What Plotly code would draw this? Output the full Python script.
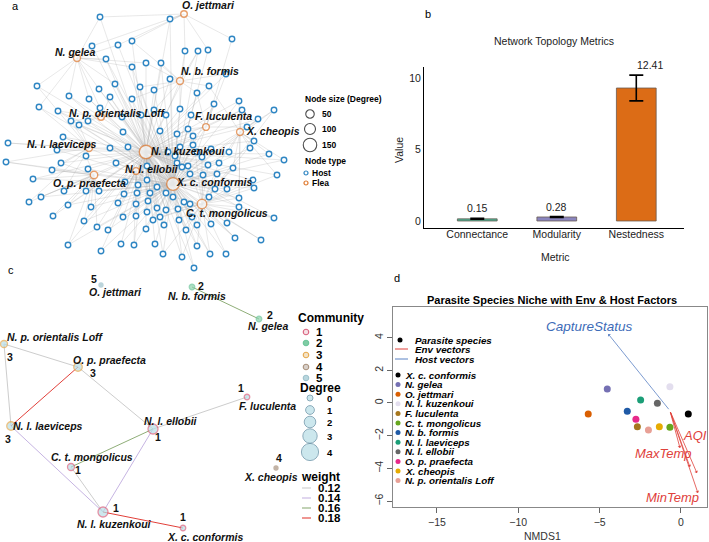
import plotly.graph_objects as go

W, H = 709, 542
FONT = "Liberation Sans, Arial, Helvetica, sans-serif"

# ---------------- Panel a : host-flea network (layout coordinates) ----------------
flea_codes = list("ABCDEFGHIJKL")
flea_names = ["O. jettmari", "N. gelea", "N. b. formis", "N. p. orientalis Loff", "F. luculenta",
              "X. cheopis", "N. l. laeviceps", "N. l. kuzenkoui", "N. l. ellobii", "O. p. praefecta",
              "X. c. conformis", "C. t. mongolicus"]
flea_x = [184, 77, 180, 101, 206, 240, 89, 146, 136, 94, 173, 202]
flea_y = [14, 58, 81, 117, 127, 132, 148, 152, 171, 175, 184, 204]
flea_degree = [12, 20, 20, 12, 15, 18, 20, 150, 15, 30, 135, 70]
flea_label_x = [208, 75, 210, 117, 223, 273, 62, 188, 152, 89, 214, 227]
flea_label_y = [5, 52, 71, 113, 116, 131, 144, 151, 169, 183, 182, 213]

host_x = [100, 170, 232, 92, 118, 132, 185, 198, 208, 106,
          146, 161, 132, 170, 226, 37, 115, 99, 140, 154,
          209, 69, 110, 89, 132, 197, 39, 58, 214, 239,
          242, 274, 154, 180, 191, 122, 71, 79, 88, 258,
          160, 177, 188, 193, 123, 63, 8, 6, 57, 110,
          128, 86, 168, 180, 197, 211, 229, 250, 254, 269,
          284, 247, 61, 52, 33, 88, 116, 147, 177, 188,
          208, 219, 233, 277, 254, 203, 217, 190, 182, 147,
          157, 138, 125, 86, 99, 64, 41, 29, 68, 91,
          124, 137, 150, 166, 173, 184, 190, 209, 215, 227,
          239, 53, 118, 136, 148, 157, 166, 123, 136, 147,
          160, 84, 97, 108, 146, 153, 164, 179, 186, 197,
          211, 227, 239, 274, 235, 261, 68, 101, 121, 134,
          155, 163, 182, 197, 210, 226, 194,
          193, 202, 175, 253, 178, 192, 100, 141, 166]
host_y = [17, 19, 39, 46, 45, 41, 51, 51, 50, 59,
          63, 63, 67, 79, 74, 86, 84, 89, 87, 90,
          86, 96, 97, 99, 99, 93, 107, 111, 104, 101,
          110, 110, 110, 109, 115, 117, 121, 125, 121, 119,
          131, 134, 129, 136, 132, 137, 143, 162, 150, 148,
          147, 156, 152, 147, 152, 149, 152, 148, 141, 154,
          160, 127, 163, 170, 179, 169, 163, 166, 163, 166,
          165, 163, 168, 175, 188, 175, 174, 174, 167, 180,
          187, 185, 182, 191, 191, 191, 197, 202, 205, 207,
          194, 193, 193, 193, 197, 202, 204, 197, 189, 189,
          198, 216, 203, 204, 201, 208, 210, 217, 216, 212,
          217, 221, 227, 230, 229, 220, 225, 220, 230, 225,
          224, 223, 207, 218, 238, 240, 245, 251, 244, 245,
          244, 254, 257, 246, 254, 254, 268,
          145, 157, 156, 180, 209, 217, 108, 115, 115]
host_links = ["ABH", "AHK", "AE", "BAH", "ABK", "ACH", "ACK", "CHK", "AK", "BHK",
              "CBH", "CHK", "BKH", "CHK", "CEH", "BGH", "BHK", "BKH", "CHK", "HK",
              "CFH", "BDK", "DHK", "BKH", "CHK", "CEK", "BGK", "DHK", "EHK", "FKH",
              "FEH", "FLK", "HCK", "CKH", "EHK", "DHK", "DGH", "GHK", "DKH", "FHK",
              "HK", "HEK", "EKH", "HLK", "HDK", "GHK", "GH", "GJK", "GKH", "HGK",
              "HIK", "GJH", "HK", "HEK", "KEH", "FKH", "FHK", "FK", "FLH", "FHK",
              "FKH", "FEH", "GJH", "GJK", "JHK", "JHK", "IHK", "HK", "KH", "KLH",
              "KLH", "LFH", "FLK", "FLH", "LKH", "KLH", "LHK", "KH", "KEH", "HIK",
              "KH", "IKH", "IHK", "JHK", "JK", "JGH", "JHK", "JG", "JKH", "JHK",
              "IKH", "IHK", "KH", "KIH", "KLH", "LKH", "LHK", "LK", "LHK", "LKH",
              "LFK", "JH", "IKH", "IHK", "KH", "KIH", "KLH", "KH", "IKH", "KH",
              "KLH", "JKH", "JHK", "KH", "KH", "KLH", "KH", "LKH", "LHK", "LK",
              "LHK", "LK", "LFH", "LKH", "LHK", "LK", "JHK", "KH", "KH", "KIH",
              "KH", "KLH", "LHK", "LKH", "LHK", "LK", "KH",
              "HK", "KLH", "HK", "LKH", "KLH", "LHK", "DBH", "HDK", "HCK"]
size_legend_degrees = [50, 100, 150]

# ---------------- Panel b : topology metrics ----------------
metrics = ["Connectance", "Modularity", "Nestedness"]
metric_values = [0.15, 0.28, 9.3]
metric_err = [0.03, 0.03, 0.9]
metric_labels = ["0.15", "0.28", "12.41"]
bar_colors = ["rgba(27,158,119,0.8)", "rgba(117,112,179,0.85)", "rgba(217,95,2,0.92)"]

# ---------------- Panel c : flea community network ----------------
c_names = ["O. jettmari", "N. b. formis", "N. gelea", "N. p. orientalis Loff", "O. p. praefecta",
           "N. l. laeviceps", "N. l. ellobii", "F. luculenta", "C. t. mongolicus", "N. l. kuzenkoui",
           "X. c. conformis", "X. cheopis"]
c_x = [101, 192, 259, 4, 78, 11, 153, 247, 71, 103, 183, 276]
c_y = [285, 287, 319, 344, 367, 426, 429, 397, 467, 512, 528, 468]
c_comm = [5, 2, 2, 3, 3, 3, 1, 1, 1, 1, 1, 4]
c_degree = [0, 1, 1, 2, 3, 3, 4, 1, 2, 4, 1, 0]
c_name_x = [115, 197, 268, 55, 109, 48, 171, 267, 92, 114, 205, 271]
c_name_y = [292, 296, 326, 337, 360, 426, 421, 406, 457, 524, 537, 477]
c_num_x = [94, 201, 270, 10, 93, 8, 158, 241, 78, 116, 183, 279]
c_num_y = [279, 286, 315, 357, 373, 439, 437, 388, 470, 508, 517, 458]
edge_from = [3, 3, 4, 4, 6, 6, 6, 5, 8, 9, 1]
edge_to = [4, 5, 5, 6, 7, 8, 9, 9, 9, 10, 2]
edge_weight = [0.12, 0.12, 0.18, 0.12, 0.12, 0.16, 0.14, 0.14, 0.12, 0.18, 0.16]
weight_levels = [0.12, 0.14, 0.16, 0.18]
weight_colors = {0.12: "#cdcdcd", 0.14: "#c6b4e2", 0.16: "#8fae78", 0.18: "#e2403a"}
communities = [1, 2, 3, 4, 5]
comm_colors = {1: "#d9627f", 2: "#6cc59a", 3: "#e5a94f", 4: "#a9927e", 5: "#9fc2cc"}
degree_levels = [0, 1, 2, 3, 4]

# ---------------- Panel d : NMDS ----------------
d_species = ["X. c. conformis", "N. gelea", "O. jettmari", "N. l. kuzenkoui", "F. luculenta",
             "C. t. mongolicus", "N. b. formis", "N. l. laeviceps", "N. l. ellobii",
             "O. p. praefecta", "X. cheopis", "N. p. orientalis Loff"]
d_colors = ["#000000", "#7570B3", "#D95F02", "#E3DEEE", "#A6761D", "#66A61E", "#1F5AA6",
            "#1B9E77", "#666666", "#E7298A", "#E6AB02", "#E8A096"]
d_x = [0.45, -4.53, -5.7, -0.68, -2.68, -0.68, -3.3, -2.48, -1.45, -2.77, -1.33, -2.0]
d_y = [-0.67, 0.86, -0.67, 1.0, -1.45, -1.49, -0.51, 0.18, -0.02, -1.0, -1.45, -1.65]
vec_origin = (-0.68, -0.47)
host_vec_x = [-4.47]
host_vec_y = [4.22]
host_vec_names = ["CaptureStatus"]
host_label_x = [-5.6]
host_label_y = [4.65]
env_vec_x = [-0.06, 0.55, 0.98, 1.04]
env_vec_y = [-2.75, -3.91, -4.28, -5.5]
env_names = ["AQI", "MaxTemp", "MinTemp"]
env_label_x = [0.86, -1.1, -0.55]
env_label_y = [-1.96, -3.06, -5.8]

# ================= build figure =================
fig = go.Figure()
PX = dict(xaxis="x3", yaxis="y3")


def dom_x(a, b):
    return [a / W, b / W]


def dom_y(top, bottom):
    return [1 - bottom / H, 1 - top / H]


def txt(x, y, s, size, bold=False, italic=False, color="black", anchor="center", angle=0):
    if italic:
        s = f"<i>{s}</i>"
    if bold:
        s = f"<b>{s}</b>"
    fig.add_annotation(x=x, y=y, xref="x3", yref="y3", text=s, showarrow=False,
                       xanchor=anchor, yanchor="middle", textangle=angle, borderpad=0,
                       font=dict(size=size, color=color, family=FONT))


def flea_size(deg):
    return 6 + deg * 0.05


# ---- panel b ----
fig.add_trace(go.Bar(
    x=metrics, y=metric_values, width=0.5,
    marker=dict(color=bar_colors, line=dict(color="#6a5a50", width=0.8)),
    error_y=dict(type="data", array=metric_err, color="black", thickness=1.6, width=7),
    xaxis="x", yaxis="y", showlegend=False, hoverinfo="skip"))
label_shift = [0, 0, 14]
for m, v, e, t, sh in zip(metrics, metric_values, metric_err, metric_labels, label_shift):
    fig.add_annotation(x=m, y=v + e, xref="x", yref="y", text=t, showarrow=False,
                       yshift=10, xshift=sh, font=dict(size=10.5, color="#222", family=FONT))

# ---- panel d ----
fig.add_trace(go.Scatter(x=d_x, y=d_y, mode="markers", xaxis="x2", yaxis="y2",
                         marker=dict(size=7, color=d_colors), showlegend=False, hoverinfo="skip"))
for vx, vy in zip(env_vec_x, env_vec_y):
    fig.add_annotation(x=vx, y=vy, ax=vec_origin[0], ay=vec_origin[1], xref="x2", yref="y2",
                       axref="x2", ayref="y2", showarrow=True, arrowhead=1, arrowsize=0.8,
                       arrowwidth=0.8, arrowcolor="#e0413b", text="")
for vx, vy in zip(host_vec_x, host_vec_y):
    fig.add_annotation(x=vx, y=vy, ax=vec_origin[0], ay=vec_origin[1], xref="x2", yref="y2",
                       axref="x2", ayref="y2", showarrow=True, arrowhead=1, arrowsize=0.8,
                       arrowwidth=0.8, arrowcolor="#5b82c4", text="")
for n, lx, ly in zip(env_names, env_label_x, env_label_y):
    fig.add_annotation(x=lx, y=ly, xref="x2", yref="y2", text=f"<i>{n}</i>", showarrow=False,
                       font=dict(size=13, color="#e0413b", family=FONT))
for n, lx, ly in zip(host_vec_names, host_label_x, host_label_y):
    fig.add_annotation(x=lx, y=ly, xref="x2", yref="y2", text=f"<i>{n}</i>", showarrow=False,
                       font=dict(size=13.5, color="#3d6cb8", family=FONT))

# ---- panel a network ----
flea_pos = {c: (x, y) for c, x, y in zip(flea_codes, flea_x, flea_y)}
ex, ey = [], []
for hx, hy, links in zip(host_x, host_y, host_links):
    for c in links:
        fx, fy = flea_pos[c]
        ex += [hx, fx, None]
        ey += [hy, fy, None]
fig.add_trace(go.Scatter(x=ex, y=ey, mode="lines", line=dict(color="rgba(170,170,170,0.55)", width=0.5),
                         showlegend=False, hoverinfo="skip", **PX))
fig.add_trace(go.Scatter(x=host_x, y=host_y, mode="markers", showlegend=False, hoverinfo="skip",
                         marker=dict(size=5.5, color="white", line=dict(color="#2f86c3", width=1.4)), **PX))
fig.add_trace(go.Scatter(x=flea_x, y=flea_y, mode="markers", showlegend=False, hoverinfo="skip",
                         marker=dict(size=[flea_size(d) for d in flea_degree], color="white",
                                     line=dict(color="#e07a30", width=1.4)), **PX))
for n, lx, ly in zip(flea_names, flea_label_x, flea_label_y):
    txt(lx, ly, n, 10.5, bold=True, italic=True, color="#111")

# panel a legend
txt(304, 99, "Node size (Degree)", 8.5, bold=True, anchor="left")
leg_y_a = [114, 129, 145]
fig.add_trace(go.Scatter(x=[310] * 3, y=leg_y_a, mode="markers", showlegend=False, hoverinfo="skip",
                         marker=dict(size=[flea_size(d) for d in size_legend_degrees], color="white",
                                     line=dict(color="black", width=1.1)), **PX))
for d, yy in zip(size_legend_degrees, leg_y_a):
    txt(321, yy, str(d), 8.5, bold=True, anchor="left")
txt(304, 161, "Node type", 8.5, bold=True, anchor="left")
fig.add_trace(go.Scatter(x=[306, 306], y=[173, 183], mode="markers", showlegend=False, hoverinfo="skip",
                         marker=dict(size=4, color="white", line=dict(color=["#2f86c3", "#e07a30"], width=1.2)),
                         **PX))
txt(311, 173, "Host", 8.5, bold=True, anchor="left")
txt(311, 183, "Flea", 8.5, bold=True, anchor="left")

# ---- panel c network ----
for f, t, w in zip(edge_from, edge_to, edge_weight):
    fig.add_trace(go.Scatter(x=[c_x[f], c_x[t]], y=[c_y[f], c_y[t]], mode="lines",
                             line=dict(color=weight_colors[w], width=1.0), showlegend=False,
                             hoverinfo="skip", **PX))
c_fill = []
for cm, dg in zip(c_comm, c_degree):
    if dg == 0:
        c_fill.append(comm_colors[cm])
    elif cm == 2:
        c_fill.append("#8ed3ae")
    else:
        c_fill.append("#b7dde6")
fig.add_trace(go.Scatter(x=c_x, y=c_y, mode="markers", showlegend=False, hoverinfo="skip",
                         marker=dict(size=[4 + 1.5 * d for d in c_degree], color=c_fill,
                                     line=dict(color=[comm_colors[c] for c in c_comm], width=1.3)), **PX))
for n, lx, ly in zip(c_names, c_name_x, c_name_y):
    txt(lx, ly, n, 10.5, bold=True, italic=True, color="#111")
for cm, lx, ly in zip(c_comm, c_num_x, c_num_y):
    txt(lx, ly, str(cm), 10.5, bold=True, color="#111")

# panel c legend
txt(297, 318, "Community", 12, bold=True, anchor="left")
comm_y = [332, 343, 355, 367, 378]
fig.add_trace(go.Scatter(x=[306] * 5, y=comm_y, mode="markers", showlegend=False, hoverinfo="skip",
                         marker=dict(size=5.5, color=["#f6dfe4", "#7fcca4", "#f4e2c4", "#d8d0ca", "#b8d6de"],
                                     line=dict(color=[comm_colors[c] for c in communities], width=1.1)), **PX))
for c, yy in zip(communities, comm_y):
    txt(315, yy, str(c), 11.5, bold=True, anchor="left")
txt(299, 388, "Degree", 12, bold=True, anchor="left")
deg_y = [398, 410, 422, 436, 452]
fig.add_trace(go.Scatter(x=[310] * 5, y=deg_y, mode="markers", showlegend=False, hoverinfo="skip",
                         marker=dict(size=[6 + 2.8 * d for d in degree_levels], color="#b7dde6",
                                     line=dict(color="#4f7f96", width=0.9)), **PX))
for d, yy in zip(degree_levels, deg_y):
    txt(326, yy, str(d), 9.5, bold=True, anchor="left")
txt(300, 477, "weight", 12, bold=True, anchor="left")
w_y = [488, 498, 508, 518]
for w, yy in zip(weight_levels, w_y):
    fig.add_trace(go.Scatter(x=[302, 311], y=[yy, yy], mode="lines", line=dict(color=weight_colors[w], width=1.1),
                             showlegend=False, hoverinfo="skip", **PX))
    txt(317, yy, f"{w:.2f}", 11.5, bold=True, anchor="left")

# ---- panel d legend ----
fig.add_trace(go.Scatter(x=[400], y=[340], mode="markers", marker=dict(size=5, color="black"),
                         showlegend=False, hoverinfo="skip", **PX))
fig.add_trace(go.Scatter(x=[395, 408], y=[349, 349], mode="lines", line=dict(color="#e0413b", width=1),
                         showlegend=False, hoverinfo="skip", **PX))
fig.add_trace(go.Scatter(x=[395, 408], y=[359, 359], mode="lines", line=dict(color="#5b82c4", width=1),
                         showlegend=False, hoverinfo="skip", **PX))
txt(414, 340, "Parasite species", 9.8, bold=True, italic=True, anchor="left")
txt(414, 349.5, "Env vectors", 9.8, bold=True, italic=True, anchor="left")
txt(414, 359, "Host vectors", 9.8, bold=True, italic=True, anchor="left")
sp_y = [375 + 9.6 * i for i in range(len(d_species))]
fig.add_trace(go.Scatter(x=[398] * len(d_species), y=sp_y, mode="markers",
                         marker=dict(size=5, color=d_colors), showlegend=False, hoverinfo="skip", **PX))
for s, yy in zip(d_species, sp_y):
    txt(404, yy, s, 9.8, bold=True, italic=True, anchor="left")

# ---- titles / panel letters ----
txt(15, 6, "a", 11)
txt(428, 14, "b", 11)
txt(11, 270, "c", 11)
txt(397, 278, "d", 11)
txt(554, 41, "Network Topology Metrics", 10.5, color="#222")
txt(399, 150, "Value", 10.5, color="#222", angle=-90)
txt(555, 257, "Metric", 10.5, color="#222")
txt(552, 300, "Parasite Species Niche with Env & Host Factors", 11, bold=True)
txt(542, 536, "NMDS1", 10.5, color="#333")

axis_common = dict(showgrid=False, zeroline=False, automargin=False, fixedrange=True)
fig.update_layout(
    width=W, height=H, margin=dict(l=0, r=0, t=0, b=0),
    paper_bgcolor="white", plot_bgcolor="rgba(0,0,0,0)",
    font=dict(family=FONT, size=10.5, color="#222"),
    showlegend=False,
    xaxis=dict(domain=dom_x(424, 684), anchor="y", range=[-0.67, 2.6], showline=True, linecolor="black",
               linewidth=1, ticks="", ticklabelstandoff=-4, tickfont=dict(size=10.5, color="#222"),
               **axis_common),
    yaxis=dict(domain=dom_y(67, 228), anchor="x", range=[-0.49, 10.77], tickvals=[0, 5, 10], showline=True,
               linecolor="black", linewidth=1, ticks="", tickfont=dict(size=10.5, color="#222"),
               **axis_common),
    xaxis2=dict(domain=dom_x(393, 707), anchor="y2", range=[-17.7, 1.6], tickvals=[-15, -10, -5, 0],
                ticktext=["\u221215", "\u221210", "\u22125", "0"],
                showline=True, mirror=True, linecolor="#888", linewidth=1, ticks="outside", ticklen=5,
                tickcolor="#666", tickfont=dict(size=10.5, color="#333"), **axis_common),
    yaxis2=dict(domain=dom_y(307, 507), anchor="x2", range=[-6.36, 5.87], tickvals=[-6, -4, -2, 0, 2, 4],
                ticktext=["\u22126", "\u22124", "\u22122", "0", "2", "4"],
                showline=True, mirror=True, linecolor="#888", linewidth=1, ticks="outside", ticklen=5,
                tickcolor="#666", tickangle=-90, tickfont=dict(size=10.5, color="#333"), **axis_common),
    xaxis3=dict(domain=[0, 1], anchor="y3", range=[0, W], visible=False, **axis_common),
    yaxis3=dict(domain=[0, 1], anchor="x3", range=[H, 0], visible=False, **axis_common),
)

fig.write_html("out.html")
